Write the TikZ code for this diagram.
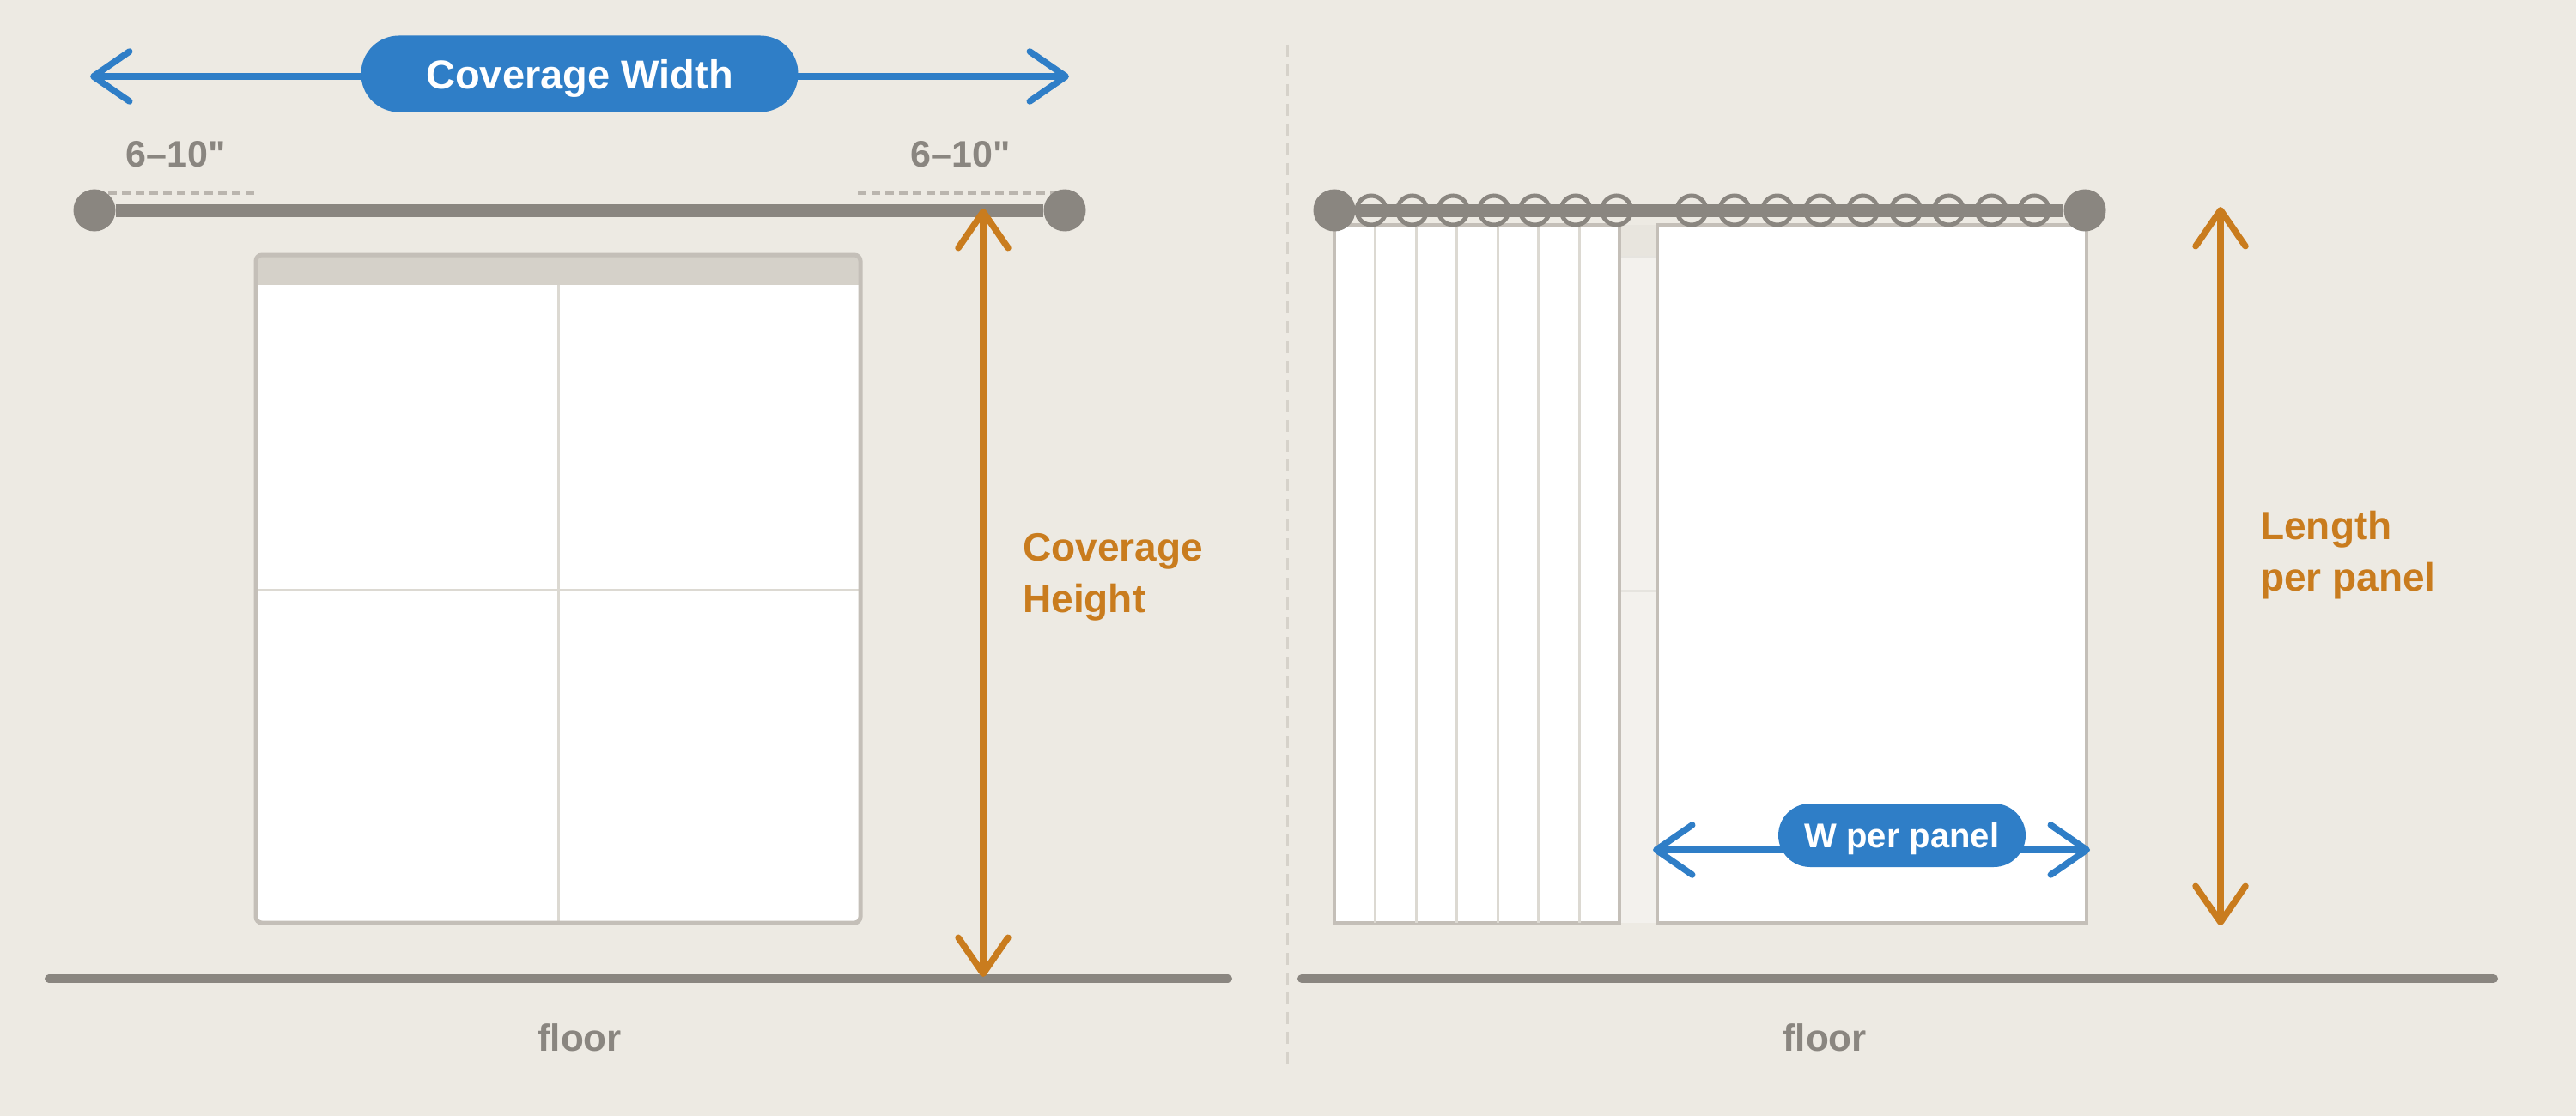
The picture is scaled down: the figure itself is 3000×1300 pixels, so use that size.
\documentclass[tikz,border=0pt]{standalone}
\usepackage{fontspec}
\setmainfont{Liberation Sans}
\newfontfamily\gapfont{Liberation Sans}
\usetikzlibrary{arrows.meta}
\definecolor{bgcol}{HTML}{EDEAE3}
\definecolor{rodgray}{HTML}{8A8680}
\definecolor{wblue}{HTML}{2F7EC7}
\definecolor{horange}{HTML}{C97C1E}
\definecolor{framegray}{HTML}{C4BFB8}
\definecolor{headgray}{HTML}{D5D1C9}
\definecolor{panegray}{HTML}{DCD9D2}
\definecolor{dashgray}{HTML}{BAB5AE}
\definecolor{splitgray}{HTML}{D6D2CA}
\definecolor{headfade}{HTML}{E8E5DE}
\definecolor{glassfade}{HTML}{F3F1ED}
\begin{document}
\begin{tikzpicture}[
  x=1pt, y=-1pt,
  font=\bfseries,
  >={Straight Barb[length=42pt,width=58pt,round]},
  rod/.style={draw=rodgray, line width=15pt},
  knob/.style={circle, fill=rodgray, minimum size=49pt, inner sep=0pt},
  ring/.style={draw=rodgray, line width=5pt},
  floorline/.style={draw=rodgray, line width=10pt, line cap=round},
  gapline/.style={draw=dashgray, line width=3.5pt, dash pattern=on 10pt off 6pt},
  splitline/.style={draw=splitgray, line width=3pt, dash pattern=on 14pt off 9pt},
  widtharrow/.style={<->, draw=wblue, line width=7.5pt},
  heightarrow/.style={<->, draw=horange, line width=7.5pt},
  pill/.style={fill=wblue, text=white, inner sep=0pt, text depth=0pt},
  gaplabel/.style={text=rodgray, font=\gapfont\bfseries\fontsize{43}{50}\selectfont, inner sep=0pt},
  floorlabel/.style={text=rodgray, font=\bfseries\fontsize{44}{50}\selectfont, inner sep=0pt},
  sidelabel/.style={text=horange, align=left, font=\bfseries\fontsize{46}{60}\selectfont, inner sep=0pt},
  frame/.style={draw=framegray, line width=5pt, rounded corners=7pt},
  pane/.style={draw=panegray, line width=3pt},
  panel/.style={fill=white, draw=framegray, line width=3.5pt},
  fold/.style={draw=panegray, line width=3pt}
]

\fill[bgcol] (0,0) rectangle (3000,1300);
\useasboundingbox (0,0) rectangle (3000,1300);

\draw[splitline] (1499,52) -- (1499,1240);

\begin{scope}
  \clip[rounded corners=7pt] (298,297) rectangle (1002,1075);
  \fill[white] (298,297) rectangle (1002,1075);
  \fill[headgray] (298,297) rectangle (1002,332);
\end{scope}
\draw[pane] (650,332) -- (650,1075);
\draw[pane] (298,687) -- (1002,687);
\draw[frame] (298,297) rectangle (1002,1075);

\draw[gapline] (110,225) -- (300,225);
\draw[gapline] (999,225) -- (1233,225);
\node[gaplabel] (gapA) at (205,180) {6–10"};
\node[gaplabel] (gapB) at (1119,180) {6–10"};

\node[knob] (knobA) at (110,245) {};
\node[knob] (knobB) at (1240,245) {};
\draw[rod] (knobA) -- (knobB);

\coordinate (cwL) at (105,89);
\coordinate (cwR) at (1245,89);
\draw[widtharrow] (cwL) -- (cwR);
\node[pill, minimum width=509pt, minimum height=89pt, rounded corners=44pt,
  font=\bfseries\fontsize{47}{56}\selectfont] (cwpill) at (675,86) {Coverage Width};

\coordinate (floorA1) at (57,1140);
\coordinate (floorA2) at (1430,1140);
\draw[floorline] (floorA1) -- (floorA2);
\node[floorlabel] (floorA) at (675,1209) {floor};

\coordinate (chTop) at (1145,243);
\coordinate (chBot) at (1145,1138);
\draw[heightarrow] (chTop) -- (chBot);
\node[sidelabel, anchor=north west] (chlabel) at (1191,621) {Coverage\\Height};

\fill[headfade] (1600,262) rectangle (2400,299);
\fill[glassfade] (1600,299) rectangle (2400,1075);
\draw[draw=panegray!70, line width=2pt] (1600,299) -- (2400,299);
\draw[draw=panegray!70, line width=3pt] (1600,688) -- (2400,688);

\draw[panel] (1554,262) rectangle (1886,1075);
\foreach \i in {1,...,6}
  \draw[fold] ({1554+\i*47.5},262) -- ({1554+\i*47.5},1075);
\draw[panel] (1930,262) rectangle (2430,1075);

\node[knob] (knobC) at (1554,245) {};
\node[knob] (knobD) at (2428,245) {};
\draw[rod] (knobC) -- (knobD);
\foreach \i in {0,...,6}
  \draw[ring] ({1597+\i*47.6},245) circle (17pt);
\foreach \i in {0,...,8}
  \draw[ring] ({1970+\i*49.9},245) circle (17pt);

\coordinate (wpL) at (1925,990);
\coordinate (wpR) at (2434,990);
\draw[widtharrow] (wpL) -- (wpR);
\node[pill, minimum width=288pt, minimum height=74pt, rounded corners=37pt,
  font=\bfseries\fontsize{40}{48}\selectfont] (wppill) at (2215,973) {W per panel};

\coordinate (floorB1) at (1516,1140);
\coordinate (floorB2) at (2904,1140);
\draw[floorline] (floorB1) -- (floorB2);
\node[floorlabel] (floorB) at (2125,1209) {floor};

\coordinate (lpTop) at (2586,241);
\coordinate (lpBot) at (2586,1078);
\draw[heightarrow] (lpTop) -- (lpBot);
\node[sidelabel, anchor=north west] (lplabel) at (2632,595) {Length\\per panel};

\end{tikzpicture}
\end{document}
